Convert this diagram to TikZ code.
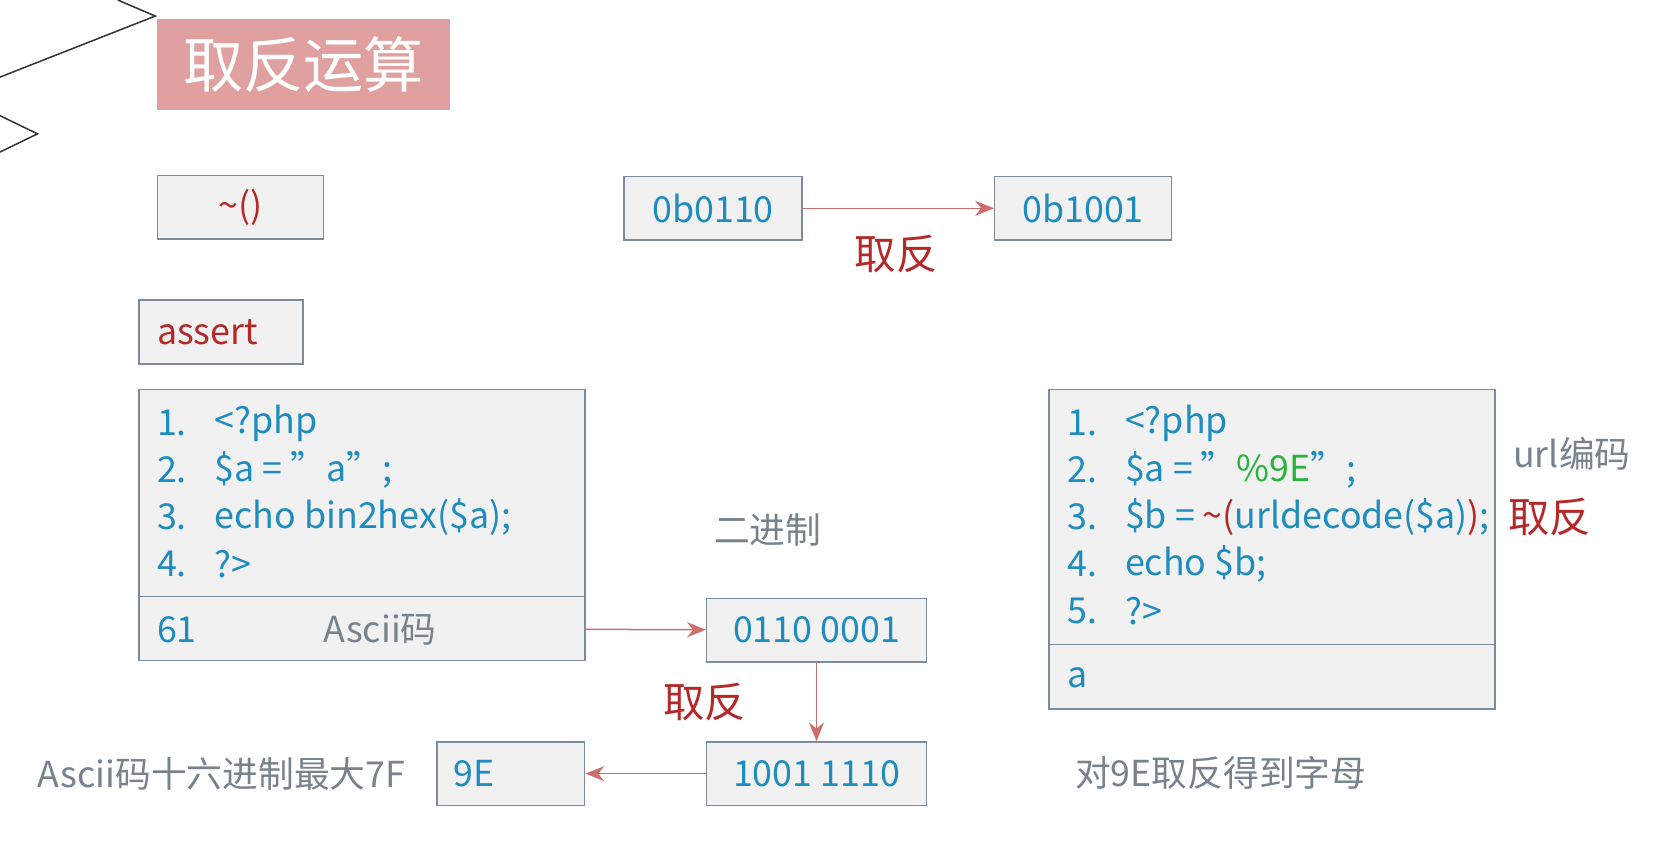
\documentclass[tikz,border=0pt]{standalone}
\usepackage{fontspec}
\setmainfont{Noto Sans CJK SC}
\usetikzlibrary{arrows.meta}
\definecolor{codeblue}{RGB}{30,140,190}
\definecolor{codered}{RGB}{180,40,40}
\definecolor{notegray}{RGB}{120,130,140}
\definecolor{boxline}{RGB}{125,140,155}
\definecolor{boxfill}{RGB}{241,241,241}
\definecolor{arrowred}{RGB}{205,110,110}
\definecolor{titlepink}{RGB}{224,160,160}
\definecolor{strgreen}{RGB}{40,180,60}
\begin{document}
\begin{tikzpicture}[x=0.01cm,y=-0.01cm,
    box/.style={draw=boxline,fill=boxfill,inner sep=0pt,font=\fontsize{9.5}{11}\selectfont},
    code/.style={anchor=west,inner sep=0pt,text=codeblue,font=\fontsize{9.5}{11}\selectfont},
    note/.style={text=notegray,font=\fontsize{9.5}{11}\selectfont},
    neg/.style={text=codered,font=\fontsize{11}{13}\selectfont},
    link/.style={draw=arrowred,-{Stealth[length=5pt,width=4pt]}}]
\useasboundingbox (0,0) rectangle (1568,800);
% corner marks
\draw[black!80] (0,72) -- (145,15) -- (110,0);
\draw[black!80] (0,108) -- (35,125) -- (0,142);

% title
\node (title) at (283.5,60.5) [fill=titlepink,minimum width=2.73cm,minimum height=0.85cm,text=white,font=\fontsize{16}{18}\selectfont] {取反运算};

% top row
\node (tilde) at (224.5,193.5) [box,minimum width=1.55cm,minimum height=0.59cm,text=codered] {\textasciitilde()};
\node (bin0) at (666,194.5) [box,minimum width=1.66cm,minimum height=0.59cm,text=codeblue] {0b0110};
\node (bin1) at (1011.5,194.5) [box,minimum width=1.65cm,minimum height=0.59cm,text=codeblue] {0b1001};
\node (neg1) at (837,237) [neg] {取反};
\path[link] (bin0) -- (bin1);

\node (assert) at (206.5,310) [box,minimum width=1.53cm,minimum height=0.6cm] {};
\node at (146,310) [code,text=codered] {assert};

% left code box
\node (phpA) at (338,460.5) [box,minimum width=4.16cm,minimum height=1.93cm] {};
\node (outA) at (338,587) [box,minimum width=4.16cm,minimum height=0.6cm] {};
\foreach \n/\t [count=\i] in {1/{<?php},2/{\$a = "a";},3/{echo bin2hex(\$a);},4/{?>}} {
    \node at (146,351+44*\i) [code] {\n.};
    \node at (200,351+44*\i) [code] {\t};
}
\node at (146,588) [code] {61};
\node (asciiA) at (355,588) [note] {Ascii码};

% binary chain
\node (binlabel) at (717,495) [note] {二进制};
\node (b61) at (762.5,588.5) [box,minimum width=2.05cm,minimum height=0.59cm,text=codeblue] {0110 0001};
\node (b9e) at (762.5,722.5) [box,minimum width=2.05cm,minimum height=0.59cm,text=codeblue] {1001 1110};
\node (hex9e) at (477,722.5) [box,minimum width=1.38cm,minimum height=0.59cm] {};
\node at (423,722.5) [code] {9E};
\node (neg2) at (658,656) [neg] {取反};
\node (maxnote) at (207,723) [note] {Ascii码十六进制最大7F};
\path[link] (outA) -- (b61);
\path[link] (b61) -- (b9e);
\path[link] (b9e) -- (hex9e);

% right code box
\node (phpB) at (1188,483) [box,minimum width=4.16cm,minimum height=2.38cm] {};
\node (outB) at (1188,632) [box,minimum width=4.16cm,minimum height=0.6cm] {};
\foreach \n/\t [count=\i] in {1/{<?php},2/{\$a = "\textcolor{strgreen}{\%9E}";},3/{\$b = \textcolor{codered}{\textasciitilde(}urldecode(\$a)\textcolor{codered}{)};},4/{echo \$b;},5/{?>}} {
    \node at (996,351+44*\i) [code] {\n.};
    \node at (1050,351+44*\i) [code] {\t};
}
\node at (996,633) [code] {a};
\node (urlnote) at (1468,424) [note] {url编码};
\node (neg3) at (1447,483) [neg] {取反};
\node (resnote) at (1140,722) [note] {对9E取反得到字母};
\end{tikzpicture}
\end{document}
